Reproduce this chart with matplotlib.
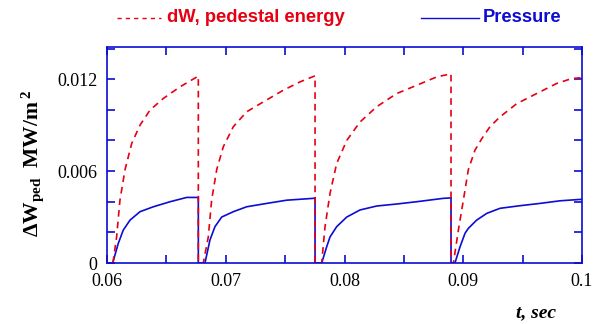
import matplotlib
matplotlib.use("Agg")
import matplotlib.pyplot as plt
from matplotlib.lines import Line2D
from matplotlib.ticker import FixedLocator, MultipleLocator

plt.rcParams['mathtext.fontset'] = 'custom'
plt.rcParams['mathtext.rm'] = 'Liberation Serif'
plt.rcParams['mathtext.bf'] = 'Liberation Serif:bold'
plt.rcParams['mathtext.it'] = 'Liberation Serif:italic'

# dW, pedestal energy (red dashed)
dw_t = [0.0605, 0.06081, 0.06109, 0.06152, 0.06208, 0.06278, 0.06362, 0.06474, 0.06615, 0.06769, 0.06769, 0.06811,
        0.06853, 0.06881, 0.06924, 0.0698, 0.07064, 0.07176, 0.07317, 0.07485, 0.07625, 0.07752, 0.07752, 0.07808,
        0.07836, 0.07878, 0.07934, 0.08019, 0.0813, 0.08271, 0.08439, 0.08608, 0.08777, 0.08897, 0.08897, 0.08917,
        0.08959, 0.09001, 0.09043, 0.09099, 0.09155, 0.09225, 0.0931, 0.0945, 0.09618, 0.09787, 0.09913, 0.1]
dw_v = [0.0, 0.0017, 0.0041, 0.0061, 0.0078, 0.009, 0.00998, 0.01074, 0.0115, 0.0122, 0.0, 0.0,
        0.0017, 0.0041, 0.0061, 0.0076, 0.0089, 0.00987, 0.01052, 0.01128, 0.01182, 0.01222, 0.0, 0.0,
        0.00237, 0.00454, 0.0065, 0.008, 0.0092, 0.0102, 0.01106, 0.0116, 0.01215, 0.01235, 0.0, 0.0,
        0.00215, 0.0041, 0.0061, 0.00737, 0.0081, 0.0089, 0.00954, 0.0104, 0.01106, 0.01172, 0.01204, 0.0121]

# Pressure (blue solid)
p_t = [0.06048, 0.06095, 0.06137, 0.06194, 0.06278, 0.0639, 0.06531, 0.06671, 0.06769, 0.06769, 0.06825,
       0.06867, 0.06909, 0.06966, 0.07064, 0.07176, 0.07345, 0.07513, 0.07737, 0.07752, 0.07752, 0.07808,
       0.0785, 0.07878, 0.07934, 0.08019, 0.0813, 0.08271, 0.08439, 0.08608, 0.08832, 0.08897, 0.08897, 0.0893,
       0.08973, 0.09015, 0.09043, 0.09113, 0.09198, 0.0931, 0.09478, 0.09646, 0.09815, 0.09983, 0.1]
p_v = [0.0, 0.00128, 0.00215, 0.0028, 0.00335, 0.00367, 0.004, 0.00428, 0.00428, 0.0, 0.0,
       0.0015, 0.00237, 0.003, 0.00335, 0.00367, 0.00389, 0.0041, 0.00422, 0.00425, 0.0, 0.0,
       0.00106, 0.0017, 0.00237, 0.003, 0.00346, 0.00372, 0.00385, 0.004, 0.00422, 0.00425, 0.0, 0.0,
       0.00106, 0.00194, 0.00226, 0.0028, 0.00324, 0.00357, 0.00374, 0.00389, 0.00406, 0.00415, 0.00415]

xticks = [0.06, 0.07, 0.08, 0.09, 0.1]
xticklabels = ["0.06", "0.07", "0.08", "0.09", "0.1"]
yticks = [0.0, 0.006, 0.012]
yticklabels = ["0", "0.006", "0.012"]

RED = '#e60012'
BLUE = '#0c0cd4'

fig = plt.figure(figsize=(5.97, 3.24), dpi=100)
ax = fig.add_axes([107/597, 1 - 263/324, (582-107)/597, (263-47)/324])

ax.plot(p_t, p_v, color=BLUE, lw=1.2, solid_joinstyle='miter')
ax.plot(dw_t, dw_v, color=RED, lw=1.2, dashes=(4, 3))

ax.set_xlim(0.06, 0.1)
ax.set_ylim(0, 0.0141)

ax.xaxis.set_major_locator(FixedLocator(xticks))
ax.set_xticklabels(xticklabels)
ax.xaxis.set_minor_locator(MultipleLocator(0.005))
ax.yaxis.set_major_locator(FixedLocator(yticks))
ax.set_yticklabels(yticklabels)
ax.yaxis.set_minor_locator(MultipleLocator(0.002))

for s in ax.spines.values():
    s.set_color(BLUE)
    s.set_linewidth(1.2)

ax.tick_params(which='both', direction='in', top=True, right=True, length=6,
               width=1.2, color=BLUE, labelcolor='black', labelsize=13, pad=7)
for lab in ax.get_xticklabels() + ax.get_yticklabels():
    lab.set_fontfamily('Liberation Serif')

ax.set_ylabel(r'$\mathbf{\Delta W_{ped}\ \ MW/m^{\ 2}}$', fontsize=15.5)
ax.yaxis.set_label_coords(-(107 - 46) / 475, (263 - 163) / 216)

fig.text(536/597, 1 - 313/324, 't, sec', fontsize=14, fontweight='bold', fontstyle='italic',
         family='Liberation Serif', ha='center', va='center')

# legend
fig.add_artist(Line2D([117/597, 161/597], [1 - 18/324, 1 - 18/324], transform=fig.transFigure,
                      color=RED, lw=1.0, dashes=(3, 3)))
fig.text(167/597, 1 - 18/324, 'dW, pedestal energy', color=RED, fontsize=13.2, fontweight='bold',
         family='Liberation Sans', ha='left', va='center')
fig.add_artist(Line2D([421/597, 479/597], [1 - 18/324, 1 - 18/324], transform=fig.transFigure,
                      color=BLUE, lw=1.0))
fig.text(483/597, 1 - 18/324, 'Pressure', color=BLUE, fontsize=13.2, fontweight='bold',
         family='Liberation Sans', ha='left', va='center')

fig.savefig('out.png', dpi=100)
